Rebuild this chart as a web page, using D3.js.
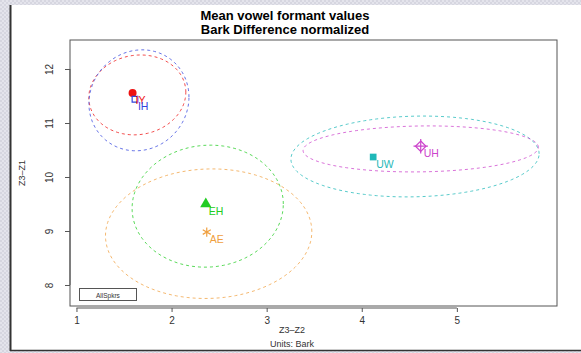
<!DOCTYPE html>
<html>
<head>
<meta charset="utf-8">
<script src="https://cdn.jsdelivr.net/npm/d3@7"></script>
<style>
  body { margin: 0; background: #fff; }
  svg { display: block; font-family: "Liberation Sans", Arial, sans-serif; }
</style>
</head>
<body>
<div id="chart"></div>
<script>
let width = 581;
let height = 353;

// vowel means (Bark difference)
const vowels = ["IY", "IH", "EH", "AE", "UW", "UH"];
const meanX = [1.59, 1.615, 2.36, 2.37, 4.12, 4.62];
const meanY = [11.555, 11.44, 9.5, 8.98, 10.37, 10.57];
const colors = ["#ee1111", "#3344dd", "#22cc22", "#f0a040", "#1fb8b8", "#cc44cc"];

// ellipse: center, x half-width, y half-height, tilt term
const ellCX = [1.64, 1.657, 2.38, 2.39, 4.56, 4.62];
const ellCY = [11.52, 11.42, 9.46, 8.95, 10.38, 10.52];
const ellA = [0.51, 0.526, 0.795, 1.085, 1.305, 1.237];
const ellB = [0.738, 0.933, 1.129, 1.199, 0.747, 0.425];
const ellK = [0.05, 0.06, 0.04, 0.04, 0.05, 0.03];

const xTicks = [1, 2, 3, 4, 5];
const yTicks = [8, 9, 10, 11, 12];

const plot = {left: 70, top: 40, right: 557, bottom: 306};

function chart() {
    xScale = d3.scaleLinear()
        .domain([0.932, 6.053])
        .range([plot.left, plot.right]);

    yScale = d3.scaleLinear()
        .domain([7.611, 12.537])
        .range([plot.bottom, plot.top]);

    var svg = d3.select("#chart")
        .append("svg")
        .attr("width", width)
        .attr("height", height);

    // checkered frame strips
    var defs = svg.append("defs");
    var pat = defs.append("pattern")
        .attr("id", "chk")
        .attr("width", 4).attr("height", 4)
        .attr("patternUnits", "userSpaceOnUse");
    pat.append("rect").attr("width", 4).attr("height", 4).attr("fill", "#e4e4ec");
    pat.append("rect").attr("width", 2).attr("height", 2).attr("fill", "#d6d6e0");
    pat.append("rect").attr("x", 2).attr("y", 2).attr("width", 2).attr("height", 2).attr("fill", "#d6d6e0");

    svg.append("rect").attr("x", 0).attr("y", 0).attr("width", 10).attr("height", height).attr("fill", "url(#chk)");
    svg.append("rect").attr("x", 0).attr("y", 0).attr("width", width).attr("height", 5).attr("fill", "url(#chk)");
    svg.append("rect").attr("x", 0).attr("y", 351).attr("width", width).attr("height", 2).attr("fill", "url(#chk)");
    svg.append("line").attr("x1", 10.5).attr("x2", 10.5).attr("y1", 5).attr("y2", 351)
        .attr("stroke", "#333").attr("stroke-width", 2);
    svg.append("line").attr("x1", 10).attr("x2", width).attr("y1", 350.5).attr("y2", 350.5)
        .attr("stroke", "#333").attr("stroke-width", 1.5);

    // title
    svg.append("text").attr("x", 285).attr("y", 20)
        .attr("text-anchor", "middle").attr("font-size", 13).attr("font-weight", "bold")
        .text("Mean vowel formant values");
    svg.append("text").attr("x", 285).attr("y", 34)
        .attr("text-anchor", "middle").attr("font-size", 13).attr("font-weight", "bold")
        .text("Bark Difference normalized");

    // box
    svg.append("rect")
        .attr("x", plot.left).attr("y", plot.top)
        .attr("width", plot.right - plot.left).attr("height", plot.bottom - plot.top)
        .attr("fill", "none").attr("stroke", "#555").attr("stroke-width", 1);

    // axes
    var xAxis = d3.axisBottom(xScale).tickValues(xTicks).tickSize(4).tickFormat(d3.format("d"));
    var gx = svg.append("g").attr("transform", "translate(0," + (plot.bottom + 2) + ")").call(xAxis);
    gx.select(".domain").attr("d", "M" + xScale(1) + ",0H" + xScale(5)).attr("stroke", "#555");
    gx.selectAll(".tick line").attr("stroke", "#555");
    gx.selectAll("text").attr("font-size", 10).attr("fill", "#333").attr("dy", "0.9em");

    var yAxis = d3.axisLeft(yScale).tickValues(yTicks).tickSize(5).tickFormat(d3.format("d"));
    var gy = svg.append("g").attr("transform", "translate(" + plot.left + ",0)").call(yAxis);
    gy.select(".domain").attr("d", "M0," + yScale(8) + "V" + yScale(12)).attr("stroke", "#555");
    gy.selectAll(".tick line").attr("stroke", "#555");
    gy.selectAll("text")
        .attr("font-size", 10).attr("fill", "#333")
        .attr("x", 0).attr("dy", 0)
        .attr("text-anchor", "middle")
        .attr("transform", "translate(-17,0) rotate(-90)");

    // axis titles
    svg.append("text").attr("x", 292).attr("y", 333)
        .attr("text-anchor", "middle").attr("font-size", 9).attr("fill", "#333").text("Z3\u2013Z2");
    svg.append("text").attr("x", 292).attr("y", 347)
        .attr("text-anchor", "middle").attr("font-size", 9).attr("fill", "#333").text("Units: Bark");
    svg.append("text")
        .attr("transform", "translate(25,173) rotate(-90)")
        .attr("text-anchor", "middle").attr("font-size", 9).attr("fill", "#333").text("Z3\u2013Z1");

    // ellipses
    var ang = d3.range(0, 361, 3).map(d => d * Math.PI / 180);
    var ell = d3.line()
        .x(d => xScale(d.x))
        .y(d => yScale(d.y));
    vowels.forEach((v, i) => {
        var pts = ang.map(t => ({
            x: ellCX[i] + ellA[i] * Math.cos(t),
            y: ellCY[i] + ellB[i] * Math.sin(t) + ellK[i] * Math.cos(t)
        }));
        svg.append("path")
            .attr("d", ell(pts))
            .attr("fill", "none")
            .attr("stroke", colors[i])
            .attr("stroke-opacity", 0.75)
            .attr("stroke-width", 1)
            .attr("stroke-dasharray", "3,3");
    });

    // point symbols
    var shapes = [d3.symbolCircle, d3.symbolSquare2, d3.symbolTriangle, d3.symbolAsterisk, d3.symbolSquare, d3.symbolDiamond2];
    var sizes = [50, 40, 55, 60, 45, 70];
    var filled = [true, false, true, false, true, false];
    vowels.forEach((v, i) => {
        var g = svg.append("g")
            .attr("transform", "translate(" + xScale(meanX[i]) + "," + yScale(meanY[i]) + ")");
        g.append("path")
            .attr("d", d3.symbol(shapes[i], sizes[i])())
            .attr("fill", filled[i] ? colors[i] : "none")
            .attr("stroke", filled[i] ? "none" : colors[i])
            .attr("stroke-width", 1.2);
        if (v === "UH") {
            g.append("path").attr("d", d3.symbol(d3.symbolPlus, 70)())
                .attr("fill", "none").attr("stroke", colors[i]).attr("stroke-width", 1.2);
        }
    });

    // labels
    vowels.forEach((v, i) => {
        svg.append("text")
            .attr("x", xScale(meanX[i]) + 3)
            .attr("y", yScale(meanY[i]) + 11)
            .attr("font-size", 10.5)
            .attr("fill", colors[i])
            .text(v);
    });

    // legend
    svg.append("rect").attr("x", 79.5).attr("y", 288.5).attr("width", 57).attr("height", 12)
        .attr("fill", "#fff").attr("stroke", "#555");
    svg.append("text").attr("x", 96).attr("y", 297.5)
        .attr("font-size", 6.5).attr("fill", "#333").text("AllSpkrs");
}

chart();
</script>
</body>
</html>
